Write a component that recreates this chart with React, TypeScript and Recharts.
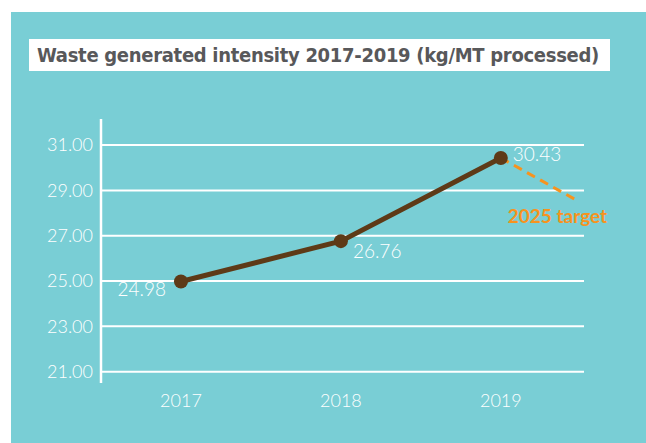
import { CartesianGrid, LabelList, Line, LineChart, XAxis, YAxis } from "recharts";

const YEARS = [2017, 2018, 2019];
const INTENSITY = [24.98, 26.76, 30.43];
const TARGET_X = [2019, 2019.49];
const TARGET_Y = [30.43, 28.5];
const Y_TICKS = [21, 23, 25, 27, 29, 31];
const TITLE = "Waste generated intensity 2017-2019 (kg/MT processed)";
const TARGET_LABEL = "2025 target";

const TEAL = "#79CED5";
const BROWN = "#5E3A17";
const ORANGE = "#F7931E";
const WHITE = "#FFFFFF";
const LIGHT = "Lato, 'Open Sans', sans-serif";

// label placement per point, relative to the dot (dx, dy, anchor)
const LABEL_POS: [number, number, "start" | "end"][] = [
  [-15, 15, "end"],
  [12, 17, "start"],
  [12, 3, "start"],
];

const data = [
  ...YEARS.map((y, i) => ({
    year: y,
    value: INTENSITY[i],
    target: TARGET_X.indexOf(y) >= 0 ? TARGET_Y[TARGET_X.indexOf(y)] : null,
  })),
  ...TARGET_X.filter((x) => !YEARS.includes(x)).map((x) => ({
    year: x,
    value: null,
    target: TARGET_Y[TARGET_X.indexOf(x)],
  })),
];

function ValueLabel(props: any) {
  const { x, y, value, index } = props;
  if (value == null || index >= LABEL_POS.length) return null;
  const [dx, dy, anchor] = LABEL_POS[index];
  return (
    <text x={x + dx} y={y + dy} fill={WHITE} fontSize={19} fontFamily={LIGHT} fontWeight={300} textAnchor={anchor}>
      {Number(value).toFixed(2)}
    </text>
  );
}

function TargetLabel(props: any) {
  const { x, y, index } = props;
  if (index !== data.length - 1) return null;
  return (
    <text x={x + 28} y={y + 21} fill={ORANGE} fontSize={19} fontWeight={700} fontFamily={LIGHT} textAnchor="end">
      {TARGET_LABEL}
    </text>
  );
}

function YearTick(props: any) {
  const { x, y, payload } = props;
  return (
    <text x={x} y={y + 16} fill={WHITE} fontSize={18} fontFamily={LIGHT} fontWeight={300} textAnchor="middle">
      {payload.value}
    </text>
  );
}

export default function App() {
  return (
    <div style={{ position: "absolute", left: 0, top: 0, width: 646, height: 443, background: "#fff" }}>
      <div style={{ position: "absolute", left: 11, top: 12, width: 635, height: 431, background: TEAL }} />
      <div
        style={{
          position: "absolute",
          left: 29,
          top: 39,
          width: 573,
          height: 32,
          paddingLeft: 8,
          background: WHITE,
          color: "#58585A",
          fontFamily: "'DejaVu Sans Condensed', 'Liberation Sans Narrow', sans-serif",
          fontWeight: 700,
          fontSize: 20,
          lineHeight: "32px",
          whiteSpace: "nowrap",
          letterSpacing: -0.3,
        }}
      >
        {TITLE}
      </div>
      <div style={{ position: "absolute", left: 0, top: 0 }}>
        <LineChart width={646} height={443} data={data} margin={{ top: 119, right: 62, bottom: 30, left: 41 }}>
          <CartesianGrid vertical={false} stroke={WHITE} strokeWidth={2} syncWithTicks />
          <XAxis
            dataKey="year"
            type="number"
            domain={[2016.5, 2019.52]}
            ticks={YEARS}
            allowDataOverflow
            axisLine={false}
            tickLine={false}
            height={30}
            tick={<YearTick />}
          />
          <YAxis
            type="number"
            domain={[20.5, 32.15]}
            ticks={Y_TICKS}
            allowDataOverflow
            width={60}
            axisLine={{ stroke: WHITE, strokeWidth: 2.5 }}
            tickLine={false}
            tickFormatter={(v: number) => v.toFixed(2)}
            tick={{ fill: WHITE, fontSize: 18, fontFamily: LIGHT, fontWeight: 300 }}
          />
          <Line
            dataKey="target"
            stroke={ORANGE}
            strokeWidth={3}
            strokeDasharray="9 6"
            dot={false}
            activeDot={false}
            connectNulls
            isAnimationActive={false}
          >
            <LabelList dataKey="target" content={<TargetLabel />} />
          </Line>
          <Line
            dataKey="value"
            stroke={BROWN}
            strokeWidth={5}
            dot={{ r: 7, fill: BROWN, stroke: BROWN, strokeWidth: 0 }}
            activeDot={false}
            isAnimationActive={false}
          >
            <LabelList dataKey="value" content={<ValueLabel />} />
          </Line>
        </LineChart>
      </div>
    </div>
  );
}
